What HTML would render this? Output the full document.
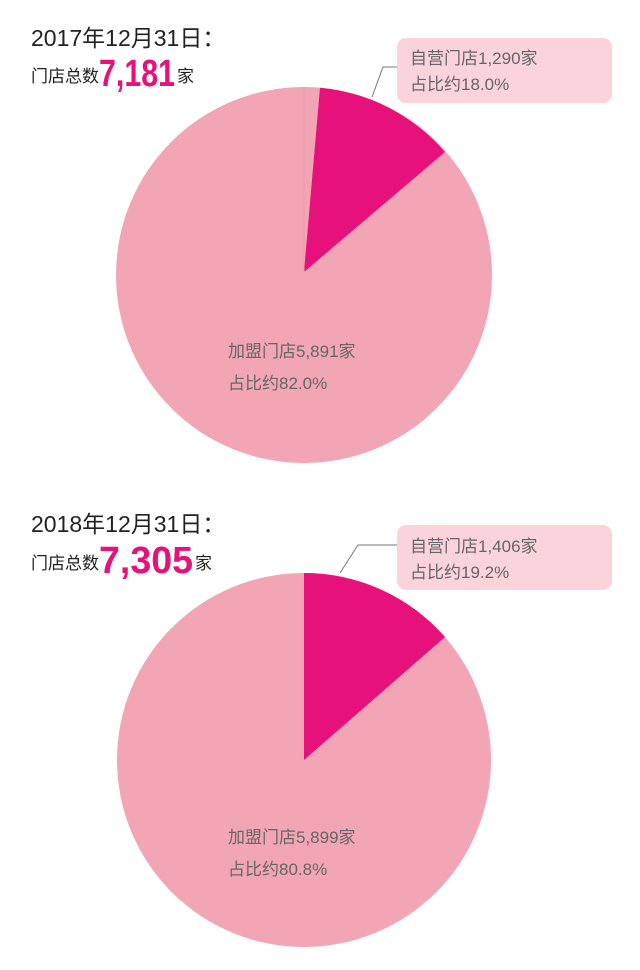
<html><head><style>
body{margin:0;width:640px;height:970px;background:#fff;overflow:hidden;font-family:"Liberation Sans","Noto Sans CJK SC",sans-serif;}
</style></head><body>
<svg width="640" height="970" xmlns="http://www.w3.org/2000/svg" style="position:absolute;left:0;top:0">
<g font-family="Liberation Sans, Noto Sans CJK SC, sans-serif">
<text x="31" y="46" font-size="23" fill="#222">2017年12月31日：</text>
<text x="31" y="82" font-size="17" fill="#222">门店总数</text>
<text x="99" y="86" font-size="38" font-weight="bold" fill="#e6117a" textLength="76" lengthAdjust="spacingAndGlyphs">7,181</text>
<text x="177" y="82" font-size="17" fill="#222">家</text>
<circle cx="304" cy="275" r="188" fill="#f2a5b5"/>
<path d="M304,272 L320,87.7 A188,188 0 0 1 445,152 Z" fill="#e6117a"/>
<line x1="304" y1="272" x2="304" y2="87" stroke="#e89aab" stroke-width="1"/>
<rect x="397" y="38" width="215" height="65" rx="9" fill="#fad3db"/>
<polyline points="397,67 383,67 372,97" fill="none" stroke="#777" stroke-width="1"/>
<text x="410" y="64" font-size="17" fill="#666">自营门店1,290家</text>
<text x="410" y="90" font-size="17" fill="#666">占比约18.0%</text>
<text x="228" y="357" font-size="17" fill="#666">加盟门店5,891家</text>
<text x="228" y="389" font-size="17" fill="#666">占比约82.0%</text>

<text x="31" y="532" font-size="23" fill="#222">2018年12月31日：</text>
<text x="31" y="569" font-size="17" fill="#222">门店总数</text>
<text x="99" y="573" font-size="38" font-weight="bold" fill="#e6117a" textLength="94" lengthAdjust="spacingAndGlyphs">7,305</text>
<text x="195" y="569" font-size="17" fill="#222">家</text>
<circle cx="304" cy="760" r="187" fill="#f2a5b5"/>
<path d="M304,760 L304,573 A187,187 0 0 1 445,637 Z" fill="#e6117a"/>
<rect x="397" y="525" width="215" height="65" rx="9" fill="#fad3db"/>
<polyline points="397,545 358,545 340,573" fill="none" stroke="#777" stroke-width="1"/>
<text x="410" y="552" font-size="17" fill="#666">自营门店1,406家</text>
<text x="410" y="578" font-size="17" fill="#666">占比约19.2%</text>
<text x="228" y="843" font-size="17" fill="#666">加盟门店5,899家</text>
<text x="228" y="875" font-size="17" fill="#666">占比约80.8%</text>
</g>
</svg>
</body></html>
